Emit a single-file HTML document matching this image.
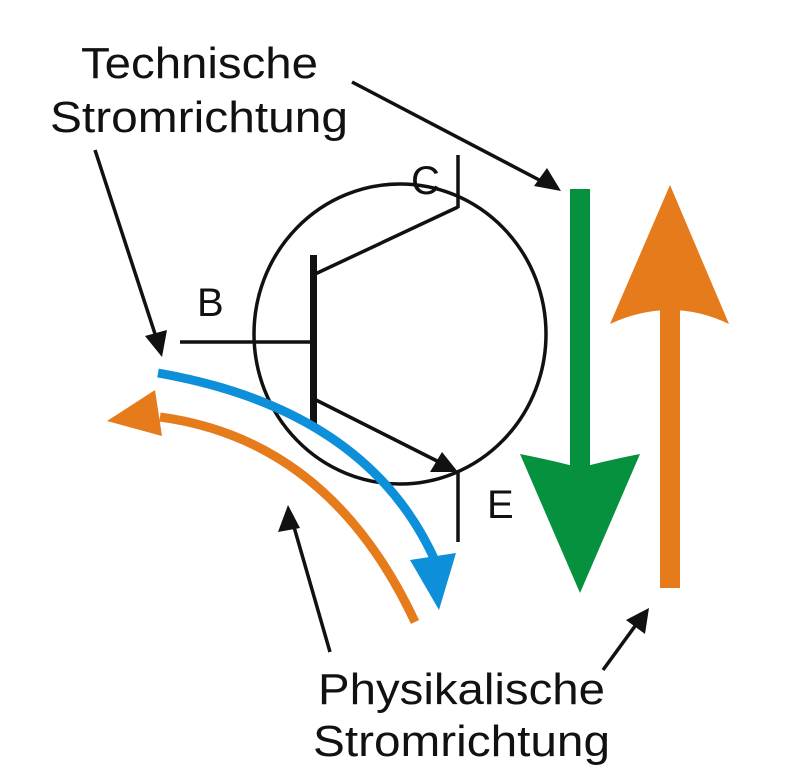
<!DOCTYPE html>
<html><head><meta charset="utf-8"><style>
html,body{margin:0;padding:0;background:#fff;}
svg{display:block;}
text{font-family:"Liberation Sans",sans-serif;fill:#111;}
</style></head><body>
<svg width="789" height="768" viewBox="0 0 789 768" xmlns="http://www.w3.org/2000/svg">
<ellipse cx="400" cy="334" rx="146" ry="150" fill="none" stroke="#111" stroke-width="3.5"/>
<rect x="310" y="255" width="7" height="170" fill="#111"/>
<line x1="180" y1="342" x2="313" y2="342" stroke="#111" stroke-width="3.5"/>
<line x1="313" y1="275" x2="458" y2="207" stroke="#111" stroke-width="3.5"/>
<line x1="458" y1="155" x2="458" y2="208" stroke="#111" stroke-width="3.5"/>
<line x1="316" y1="400" x2="445" y2="465" stroke="#111" stroke-width="3.5"/>
<polygon points="458,472 430,472 442,452" fill="#111"/>
<line x1="458" y1="472" x2="458" y2="542" stroke="#111" stroke-width="3.5"/>
<rect x="570" y="189" width="20" height="285" fill="#06913f"/>
<path d="M520,454 Q560,462 580,468 Q600,462 640,454 L580,593 Z" fill="#06913f"/>
<rect x="660" y="300" width="20" height="288" fill="#e57b1b"/>
<path d="M610,324 Q640,310 670,310 Q700,310 729,324 L670,185 Z" fill="#e57b1b"/>
<path d="M158,373 Q370,410 437,565" fill="none" stroke="#0d8fd9" stroke-width="9"/>
<polygon points="410,560 456,553 439,610" fill="#0d8fd9"/>
<path d="M415,622 Q330,440 160,417" fill="none" stroke="#e57b1b" stroke-width="9"/>
<polygon points="107,421 155,390 162,436" fill="#e57b1b"/>
<g stroke="#111" stroke-width="3.5">
<line x1="352" y1="82" x2="545" y2="183"/>
<line x1="95" y1="150" x2="157" y2="340"/>
<line x1="330" y1="652" x2="292" y2="520"/>
<line x1="603" y1="670" x2="638" y2="622"/>
</g>
<polygon points="561,191 534,186 547,168" fill="#111"/>
<polygon points="162,357 145,336 167,330" fill="#111"/>
<polygon points="288,505 300,528 278,532" fill="#111"/>
<polygon points="649,608 645,634 626,620" fill="#111"/>
<text x="81" y="78" font-size="44" textLength="237" lengthAdjust="spacingAndGlyphs">Technische</text>
<text x="50" y="132" font-size="44" textLength="298" lengthAdjust="spacingAndGlyphs">Stromrichtung</text>
<text x="318" y="704" font-size="44" textLength="287" lengthAdjust="spacingAndGlyphs">Physikalische</text>
<text x="313" y="756" font-size="44" textLength="297" lengthAdjust="spacingAndGlyphs">Stromrichtung</text>
<text x="411" y="194" font-size="40">C</text>
<text x="197" y="316" font-size="40">B</text>
<text x="487" y="518" font-size="40">E</text>
</svg>
</body></html>
